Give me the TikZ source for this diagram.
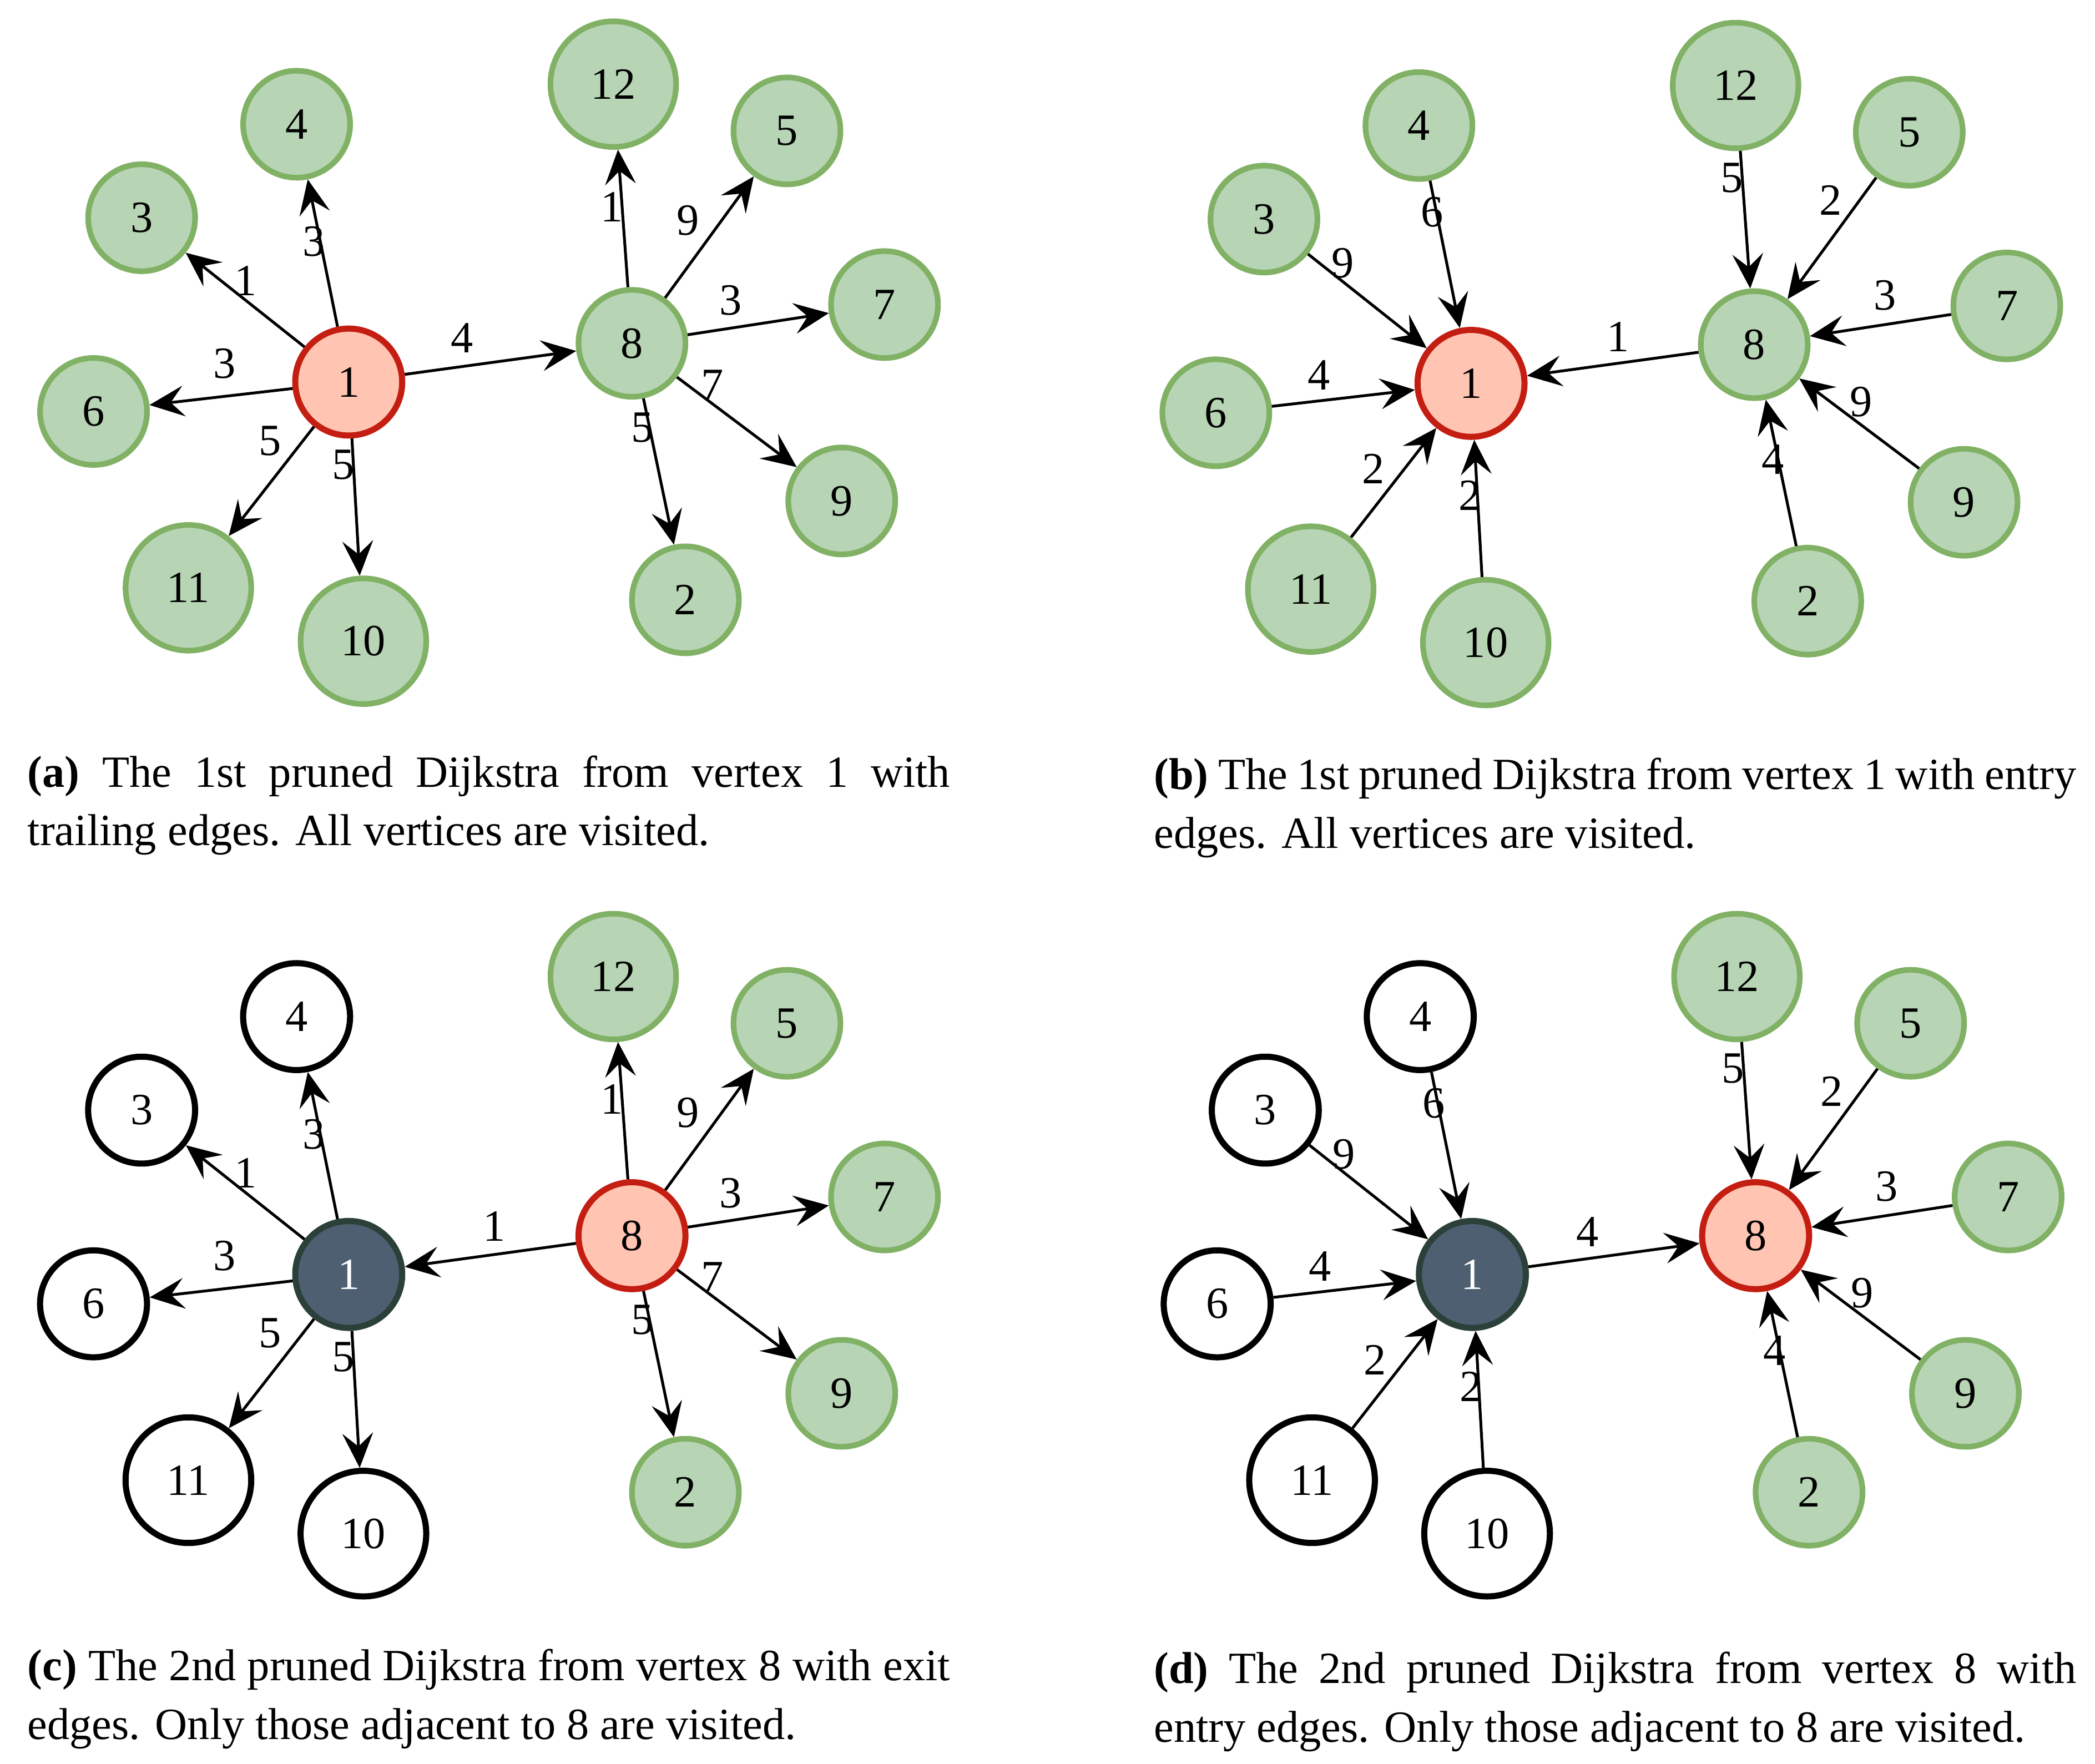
\documentclass[tikz,border=0pt]{standalone}
\usepackage{fontspec}
\setmainfont{Liberation Serif}
\usetikzlibrary{arrows.meta}
\definecolor{gfill}{HTML}{B7D5B5}
\definecolor{gdraw}{HTML}{80B165}
\definecolor{rfill}{HTML}{FFC4B2}
\definecolor{rdraw}{HTML}{C41E12}
\definecolor{dfill}{HTML}{4D5F70}
\definecolor{ddraw}{HTML}{2C403A}
\tikzset{
 vtx/.style={circle, minimum size=0.80cm, inner sep=0pt, font=\fontsize{9.5}{11}\selectfont},
 big/.style={minimum size=0.94cm},
 gnode/.style={vtx, fill=gfill, draw=gdraw, line width=1.2pt},
 rnode/.style={vtx, fill=rfill, draw=rdraw, line width=1.3pt},
 dnode/.style={vtx, fill=dfill, draw=ddraw, line width=1.3pt, text=white},
 wnode/.style={vtx, fill=white, draw=black, line width=1.3pt},
 conn/.style={line width=0.6pt, -{Stealth[length=0.26cm, width=0.23cm, inset=0.1cm]}},
 lbl/.style={font=\fontsize{9.5}{11}\selectfont, inner sep=0pt},
 captxt/.style={anchor=base west, inner sep=0pt, font=\fontsize{9.5}{12}\selectfont},
}
% #1 prefix, #2 style of vertex 1, #3 style of left group, #4 style of vertex 8
\newcommand\vertices[4]{%
 \node[#2] (#1-1) at (261,286) {1};
 \node[#4] (#1-8) at (473,257) {8};
 \node[#3] (#1-4) at (222,93) {4};
 \node[#3] (#1-3) at (106,163) {3};
 \node[#3] (#1-6) at (70,308) {6};
 \node[#3,big] (#1-11) at (141,440) {11};
 \node[#3,big] (#1-10) at (272,480) {10};
 \node[gnode,big] (#1-12) at (459,63) {12};
 \node[gnode] (#1-5) at (589,98) {5};
 \node[gnode] (#1-7) at (662,228) {7};
 \node[gnode] (#1-9) at (630,375) {9};
 \node[gnode] (#1-2) at (513,449) {2};
}
\newcommand\outedges[1]{%
 \draw[conn] (#1-1) -- (#1-3);  \node[lbl] (#1-l3) at (184,210) {1};
 \draw[conn] (#1-1) -- (#1-4);  \node[lbl] (#1-l4) at (235,181) {3};
 \draw[conn] (#1-1) -- (#1-6);  \node[lbl] (#1-l6) at (168,272) {3};
 \draw[conn] (#1-1) -- (#1-11); \node[lbl] (#1-l11) at (202,330) {5};
 \draw[conn] (#1-1) -- (#1-10); \node[lbl] (#1-l10) at (257,348) {5};
 \draw[conn] (#1-8) -- (#1-12); \node[lbl] (#1-l12) at (458,155) {1};
 \draw[conn] (#1-8) -- (#1-5);  \node[lbl] (#1-l5) at (515,165) {9};
 \draw[conn] (#1-8) -- (#1-7);  \node[lbl] (#1-l7) at (547,225) {3};
 \draw[conn] (#1-8) -- (#1-9);  \node[lbl] (#1-l9) at (533,288) {7};
 \draw[conn] (#1-8) -- (#1-2);  \node[lbl] (#1-l2) at (481,320) {5};
}
\newcommand\inedges[1]{%
 \draw[conn] (#1-3) -- (#1-1);  \node[lbl] (#1-l3) at (165,196) {9};
 \draw[conn] (#1-4) -- (#1-1);  \node[lbl] (#1-l4) at (232,158) {6};
 \draw[conn] (#1-6) -- (#1-1);  \node[lbl] (#1-l6) at (147,280) {4};
 \draw[conn] (#1-11) -- (#1-1); \node[lbl] (#1-l11) at (188,350) {2};
 \draw[conn] (#1-10) -- (#1-1); \node[lbl] (#1-l10) at (260,370) {2};
 \draw[conn] (#1-12) -- (#1-8); \node[lbl] (#1-l12) at (456,132) {5};
 \draw[conn] (#1-5) -- (#1-8);  \node[lbl] (#1-l5) at (530,149) {2};
 \draw[conn] (#1-7) -- (#1-8);  \node[lbl] (#1-l7) at (571,220) {3};
 \draw[conn] (#1-9) -- (#1-8);  \node[lbl] (#1-l9) at (553,300) {9};
 \draw[conn] (#1-2) -- (#1-8);  \node[lbl] (#1-l2) at (487,343) {4};
}
\begin{document}
\begin{tikzpicture}[x=0.01cm,y=-0.01cm]
\useasboundingbox (0,0) rectangle (1568,1320.45);
% (a)
\begin{scope}
 \vertices{a}{rnode}{gnode}{gnode}
 \outedges{a}
 \draw[conn] (a-1) -- (a-8); \node[lbl] (a-l8) at (346,253) {4};
\end{scope}
% (b)
\begin{scope}[shift={(840,1)}]
 \vertices{b}{rnode}{gnode}{gnode}
 \inedges{b}
 \draw[conn] (b-8) -- (b-1); \node[lbl] (b-l8) at (371,251) {1};
\end{scope}
% (c)
\begin{scope}[shift={(0,668)}]
 \vertices{c}{dnode}{wnode}{rnode}
 \outedges{c}
 \draw[conn] (c-8) -- (c-1); \node[lbl] (c-l8) at (370,250) {1};
\end{scope}
% (d)
\begin{scope}[shift={(841,668)}]
 \vertices{d}{dnode}{wnode}{rnode}
 \inedges{d}
 \draw[conn] (d-1) -- (d-8); \node[lbl] (d-l8) at (347,254) {4};
\end{scope}
% captions
\node[captxt] (capa1) at (20,589) {\makebox[6.9cm][s]{\textbf{(a)} The 1st pruned Dijkstra from vertex 1 with}};
\node[captxt] (capa2) at (20,633) {trailing edges. All vertices are visited.};
\node[captxt] (capb1) at (863,591) {\makebox[6.9cm][s]{\textbf{(b)} The 1st pruned Dijkstra from vertex 1 with entry}};
\node[captxt] (capb2) at (863,635) {edges. All vertices are visited.};
\node[captxt] (capc1) at (20,1258) {\makebox[6.9cm][s]{\textbf{(c)} The 2nd pruned Dijkstra from vertex 8 with exit}};
\node[captxt] (capc2) at (20,1302) {edges. Only those adjacent to 8 are visited.};
\node[captxt] (capd1) at (863,1260) {\makebox[6.9cm][s]{\textbf{(d)} The 2nd pruned Dijkstra from vertex 8 with}};
\node[captxt] (capd2) at (863,1304) {entry edges. Only those adjacent to 8 are visited.};
\end{tikzpicture}
\end{document}
